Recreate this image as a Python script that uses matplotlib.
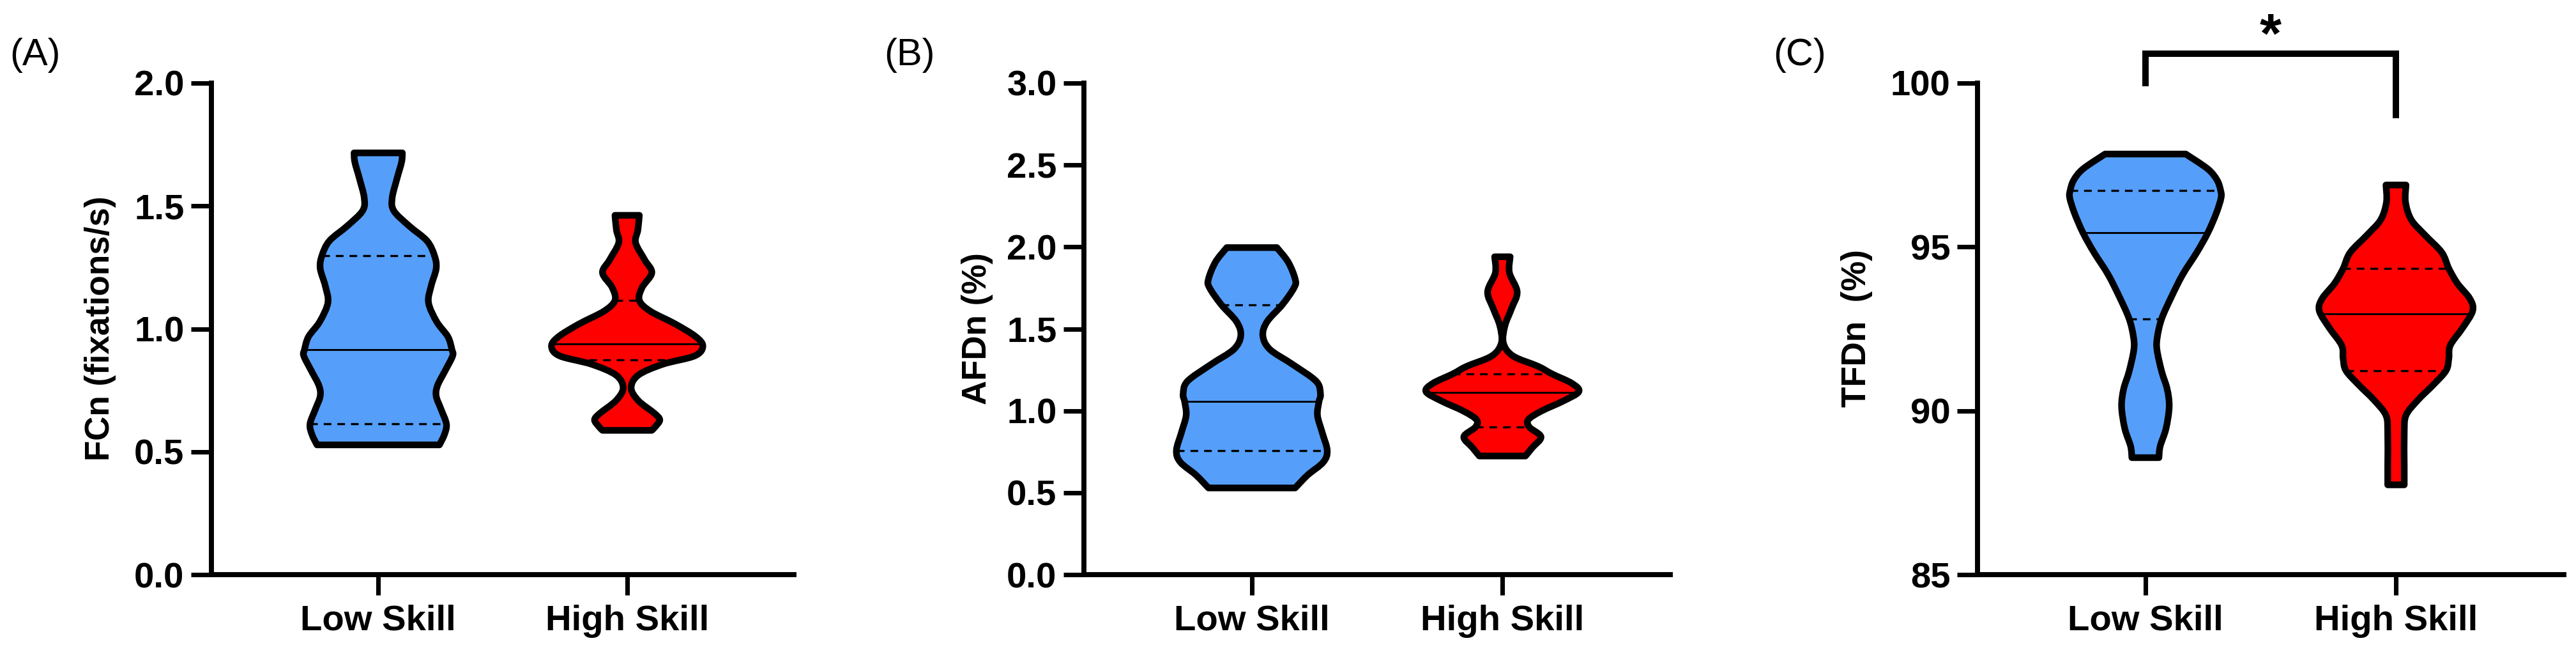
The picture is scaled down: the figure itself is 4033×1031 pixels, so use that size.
import numpy as np
import matplotlib.pyplot as plt
from matplotlib.path import Path
from matplotlib.patches import PathPatch

plt.rcParams['font.family'] = ['Liberation Sans', 'DejaVu Sans']

W_PX, H_PX, DPI = 4033, 1031, 300

GROUPS = ["Low Skill", "High Skill"]
COLORS = ["#559FFB", "#FF0000"]

# --- violin outlines: value level, half width (category units) ---
# (A) FCn
fcn_low_y = [0.528, 0.570, 0.613, 0.674, 0.726, 0.769, 0.830, 0.890, 0.916, 0.968, 1.029,
             1.107, 1.176, 1.246, 1.298, 1.358, 1.419, 1.480, 1.532, 1.610, 1.679, 1.716]
fcn_low_w = [0.246, 0.266, 0.274, 0.252, 0.233, 0.238, 0.269, 0.299, 0.296, 0.280, 0.235,
             0.202, 0.213, 0.233, 0.226, 0.196, 0.124, 0.063, 0.056, 0.075, 0.094, 0.097]
fcn_high_y = [0.587, 0.604, 0.630, 0.656, 0.708, 0.760, 0.812, 0.856, 0.890, 0.929, 0.968,
              1.020, 1.072, 1.116, 1.168, 1.228, 1.280, 1.350, 1.402, 1.462]
fcn_high_w = [0.099, 0.115, 0.131, 0.110, 0.045, 0.016, 0.045, 0.143, 0.271, 0.304, 0.276,
              0.193, 0.093, 0.049, 0.060, 0.099, 0.071, 0.034, 0.043, 0.049]
fcn_median = [0.916, 0.938]
fcn_q1 = [0.613, 0.873]
fcn_q3 = [1.298, 1.116]

# (B) AFDn
afd_low_y = [0.529, 0.608, 0.686, 0.757, 0.867, 0.972, 1.056, 1.101, 1.180, 1.284, 1.375,
             1.459, 1.544, 1.648, 1.752, 1.804, 1.908, 1.996]
afd_low_w = [0.173, 0.223, 0.285, 0.301, 0.281, 0.262, 0.268, 0.274, 0.257, 0.162, 0.072,
             0.044, 0.061, 0.122, 0.169, 0.173, 0.145, 0.100]
afd_high_y = [0.724, 0.776, 0.841, 0.900, 0.945, 0.997, 1.062, 1.117, 1.167, 1.225, 1.271,
              1.335, 1.414, 1.518, 1.622, 1.726, 1.843, 1.940]
afd_high_w = [0.092, 0.120, 0.154, 0.108, 0.103, 0.154, 0.246, 0.305, 0.278, 0.198, 0.143,
              0.042, 0.004, 0.010, 0.036, 0.059, 0.028, 0.031]
afd_median = [1.056, 1.112]
afd_q1 = [0.757, 0.900]
afd_q3 = [1.648, 1.225]

# (C) TFDn
tfd_low_y = [88.57, 88.92, 89.45, 90.12, 90.66, 91.20, 91.87, 92.27, 92.81, 93.48, 94.16,
             94.83, 95.43, 96.03, 96.50, 96.73, 97.04, 97.38, 97.835]
tfd_low_w = [0.054, 0.059, 0.082, 0.095, 0.087, 0.065, 0.046, 0.048, 0.065, 0.104, 0.149,
             0.205, 0.249, 0.283, 0.302, 0.300, 0.286, 0.249, 0.161]
tfd_high_y = [87.74, 88.31, 89.32, 89.86, 90.33, 90.80, 91.23, 91.60, 92.00, 92.54, 93.05,
              93.42, 93.89, 94.34, 94.83, 95.36, 95.83, 96.37, 96.89]
tfd_high_w = [0.033, 0.033, 0.033, 0.040, 0.088, 0.150, 0.200, 0.211, 0.217, 0.267, 0.306,
              0.295, 0.245, 0.211, 0.183, 0.116, 0.061, 0.038, 0.040]
tfd_median = [95.43, 92.96]
tfd_q1 = [92.81, 91.23]
tfd_q3 = [96.73, 94.34]

# significance bracket for (C)
sig_pair = [0, 1]
sig_text = "*"
sig_top = 100.9
sig_legs = [100.0, 99.03]


def px_axes(left, right):
    # axes box in figure fraction from pixel edges (y axis 130..899 px from top)
    return [left / W_PX, (H_PX - 899) / H_PX, (right - left) / W_PX, 769 / H_PX]


def spline_side(pts):
    # Catmull-Rom through the outline points, as cubic bezier segments
    verts, codes = [], []
    n = len(pts)
    for i in range(n - 1):
        p0 = pts[max(i - 1, 0)]
        p1, p2 = pts[i], pts[i + 1]
        p3 = pts[min(i + 2, n - 1)]
        verts += [p1 + (p2 - p0) / 6, p2 - (p3 - p1) / 6, p2]
        codes += [Path.CURVE4] * 3
    return verts, codes


def violin(ax, x, ys, ws, color, med, q1, q3):
    ys = np.asarray(ys, float)
    ws = np.asarray(ws, float)
    right = np.column_stack([x + ws, ys])
    left = np.column_stack([x - ws, ys])[::-1]
    verts = [left[-1], right[0]]
    codes = [Path.MOVETO, Path.LINETO]
    v, c = spline_side(right)
    verts += v
    codes += c
    verts.append(left[0])
    codes.append(Path.LINETO)
    v, c = spline_side(left)
    verts += v
    codes += c
    verts.append(left[-1])
    codes.append(Path.CLOSEPOLY)
    path = Path(verts, codes)
    ax.add_patch(PathPatch(path, facecolor=color, edgecolor="none", zorder=2))
    hw = np.interp(med, ys, ws)
    ax.plot([x - hw, x + hw], [med, med], color="black", lw=0.7, zorder=3,
            solid_capstyle="butt")
    for q in (q1, q3):
        hw = np.interp(q, ys, ws)
        ax.plot([x - hw, x + hw], [q, q], color="black", lw=0.8, zorder=3,
                dashes=(3.6, 2.8), dash_capstyle="butt")
    ax.add_patch(PathPatch(path, facecolor="none", edgecolor="black", lw=2.5,
                           joinstyle="round", zorder=4))


def style_axes(ax, ylim, yticks, fmt):
    ax.set_xlim(-0.67, 1.67)
    ax.set_ylim(*ylim)
    for s in ("top", "right"):
        ax.spines[s].set_visible(False)
    for s in ("left", "bottom"):
        ax.spines[s].set_linewidth(1.9)
    ax.set_yticks(yticks)
    ax.set_yticklabels([fmt.format(t) for t in yticks], fontsize=13.5, fontweight="bold")
    ax.set_xticks([0, 1])
    ax.set_xticklabels(GROUPS, fontsize=13.5, fontweight="bold")
    ax.tick_params(axis="both", length=7.7, width=1.7, direction="out")
    ax.tick_params(axis="y", pad=2.5)
    ax.tick_params(axis="x", pad=3.5)
    ax.patch.set_visible(False)


fig = plt.figure(figsize=(W_PX / DPI, H_PX / DPI), dpi=DPI)

panels = [
    dict(box=(331, 1243), ylim=(0, 2), yticks=[0, 0.5, 1.0, 1.5, 2.0], fmt="{:.1f}",
         label="FCn (fixations/s)", label_x=157, tag="(A)", tag_x=15,
         low=(fcn_low_y, fcn_low_w), high=(fcn_high_y, fcn_high_w),
         med=fcn_median, q1=fcn_q1, q3=fcn_q3),
    dict(box=(1697, 2615), ylim=(0, 3), yticks=[0, 0.5, 1.0, 1.5, 2.0, 2.5, 3.0], fmt="{:.1f}",
         label="AFDn (%)", label_x=1530, tag="(B)", tag_x=1384,
         low=(afd_low_y, afd_low_w), high=(afd_high_y, afd_high_w),
         med=afd_median, q1=afd_q1, q3=afd_q3),
    dict(box=(3096, 4014), ylim=(85, 100), yticks=[85, 90, 95, 100], fmt="{:.0f}",
         label="TFDn  (%)", label_x=2907, tag="(C)", tag_x=2776,
         low=(tfd_low_y, tfd_low_w), high=(tfd_high_y, tfd_high_w),
         med=tfd_median, q1=tfd_q1, q3=tfd_q3),
]

axes = []
for p in panels:
    ax = fig.add_axes(px_axes(*p["box"]))
    style_axes(ax, p["ylim"], p["yticks"], p["fmt"])
    for i, (ys, ws) in enumerate([p["low"], p["high"]]):
        violin(ax, i, ys, ws, COLORS[i], p["med"][i], p["q1"][i], p["q3"][i])
    fig.text(p["label_x"] / W_PX, 1 - 514 / H_PX, p["label"], rotation=90,
             ha="center", va="center", fontsize=12.7, fontweight="bold")
    fig.text(p["tag_x"] / W_PX, 1 - 102 / H_PX, p["tag"], ha="left", va="baseline",
             fontsize=14.3)
    axes.append(ax)

# significance bracket on (C)
axc = axes[2]
axc.plot([sig_pair[0], sig_pair[0], sig_pair[1], sig_pair[1]],
         [sig_legs[0], sig_top, sig_top, sig_legs[1]],
         color="black", lw=2.4, clip_on=False, solid_joinstyle="miter", zorder=5)
axc.text(np.mean(sig_pair), sig_top + 0.05, sig_text, ha="center", va="baseline",
         fontsize=21, fontweight="bold", clip_on=False)

fig.savefig("out.png", dpi=DPI)
